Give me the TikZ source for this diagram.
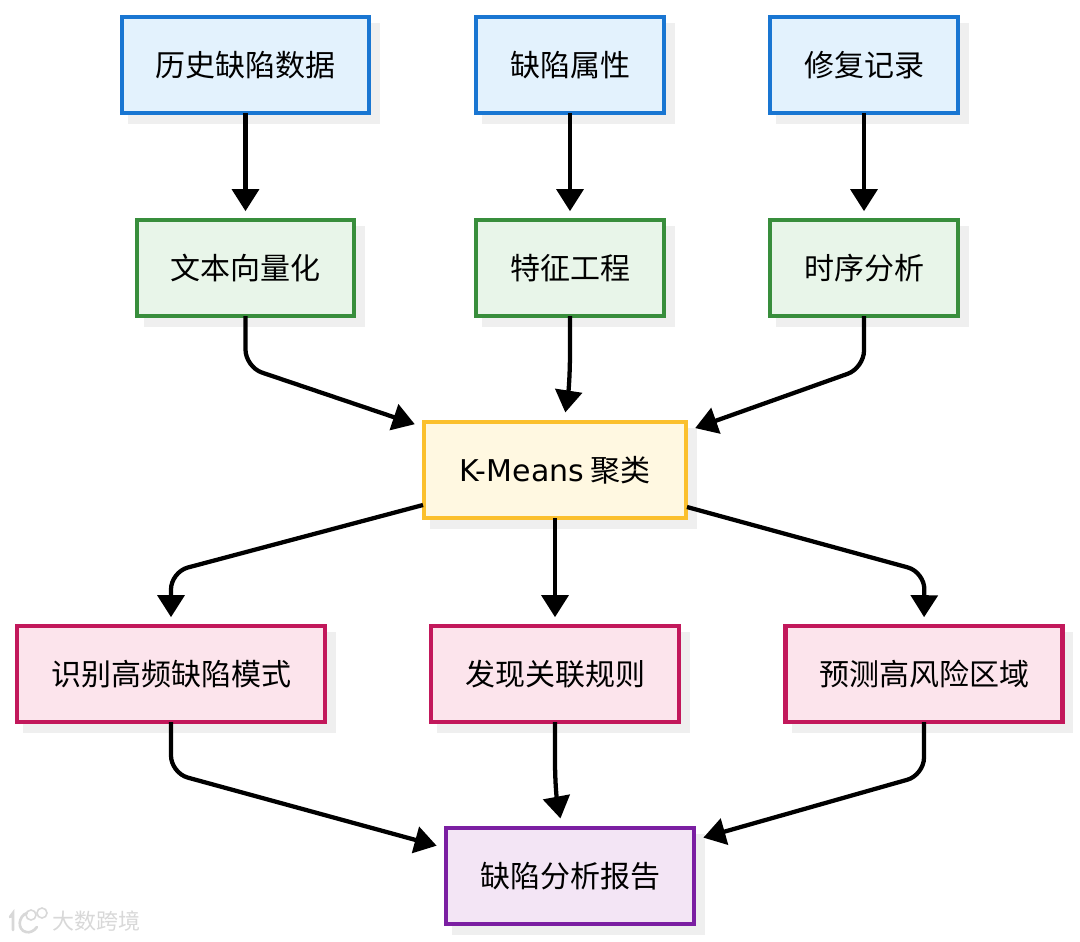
\documentclass[tikz,border=0pt]{standalone}
\usepackage{fontspec}
\setmainfont{Noto Sans CJK SC}
\newfontfamily\latinfont{DejaVu Sans}
\usetikzlibrary{arrows.meta,shadows}

\definecolor{inputline}{HTML}{1976D2}
\definecolor{inputfill}{HTML}{E3F2FD}
\definecolor{procline}{HTML}{388E3C}
\definecolor{procfill}{HTML}{E8F5E9}
\definecolor{clusterline}{HTML}{FBC02D}
\definecolor{clusterfill}{HTML}{FFF8E1}
\definecolor{resultline}{HTML}{C2185B}
\definecolor{resultfill}{HTML}{FCE4EC}
\definecolor{reportline}{HTML}{7B1FA2}
\definecolor{reportfill}{HTML}{F3E5F5}
\definecolor{shadowgray}{HTML}{EFEFEF}
\definecolor{markgray}{HTML}{D8D8D8}

\begin{document}
\begin{tikzpicture}[x=0.75pt,y=-0.75pt]
\tikzstyle{every node}=
[
    %Sets text size of all boxes
    font=\fontsize{22.5pt}{27pt}\selectfont,
    text=black
    ]
\tikzstyle{box}=
[
    %Common look of boxes, height is the same everywhere
    rectangle,
    line width=3.1pt,
    outer sep=0pt,
    minimum height=72.2pt,
    drop shadow={shadow xshift=6.4pt,shadow yshift=-6.4pt,draw=shadowgray,fill=shadowgray,opacity=1}
    ]
\tikzstyle{inputbox}=[box,draw=inputline,fill=inputfill]
\tikzstyle{procbox}=[box,draw=procline,fill=procfill]
\tikzstyle{clusterbox}=[box,draw=clusterline,fill=clusterfill]
\tikzstyle{resultbox}=[box,draw=resultline,fill=resultfill]
\tikzstyle{reportbox}=[box,draw=reportline,fill=reportfill]
\tikzstyle{flow}=
[
    %Connectors between boxes
    line width=3.2pt,
    black,
    rounded corners=13pt,
    shorten >=6.5pt,
    -{Triangle[length=16.5pt,width=20pt]}
    ]

\useasboundingbox (0,0) rectangle (1080,941);

%Input row
\node[inputbox,minimum width=185.7pt] (history) at (245.5,65) {历史缺陷数据};
\node[inputbox,minimum width=141.2pt] (attrs) at (570,65) {缺陷属性};
\node[inputbox,minimum width=141.2pt] (repairs) at (864,65) {修复记录};

%Processing row
\node[procbox,minimum width=162.7pt] (vectors) at (245.5,268) {文本向量化};
\node[procbox,minimum width=141.2pt] (features) at (570,268) {特征工程};
\node[procbox,minimum width=141.2pt] (timing) at (864,268) {时序分析};

\node[clusterbox,minimum width=196.7pt] (kmeans) at (555,470) {{\latinfont\fontsize{22.5pt}{27pt}\selectfont K-Means} 聚类};

%Result row
\node[resultbox,minimum width=231.2pt] (patterns) at (171,674) {识别高频缺陷模式};
\node[resultbox,minimum width=186.2pt] (rules) at (555,674) {发现关联规则};
\node[resultbox,minimum width=207.7pt] (risks) at (924,674) {预测高风险区域};

\node[reportbox,minimum width=186.2pt] (report) at (570,876) {缺陷分析报告};

%Where the slanted connectors meet the boxes
\coordinate (kmeansleft) at (423,427);
\coordinate (kmeanstop) at (564,421);
\coordinate (kmeansright) at (687,431);
\coordinate (kmeansoutleft) at (423,505);
\coordinate (kmeansoutright) at (687,507);
\coordinate (reportleft) at (445,848);
\coordinate (reporttop) at (562,827);
\coordinate (reportright) at (695,840);

\draw[flow] (history) -- (vectors);
\draw[flow] (attrs) -- (features);
\draw[flow] (repairs) -- (timing);

\draw[flow] (vectors.south) -- (245.5,367) -- (kmeansleft);
\draw[flow,sharp corners] (features.south) -- (570,350) .. controls (570,380) and (568,395) .. (kmeanstop);
\draw[flow] (timing.south) -- (864,368) -- (kmeansright);

\draw[flow] (kmeansoutleft) -- (171,572) -- (patterns.north);
\draw[flow] (kmeans) -- (rules);
\draw[flow] (kmeansoutright) -- (924.5,572) -- (risks.north);

\draw[flow] (patterns.south) -- (171,773) -- (reportleft);
\draw[flow,sharp corners] (rules.south) -- (555,760) .. controls (555,785) and (557,800) .. (reporttop);
\draw[flow] (risks.south) -- (924,775) -- (reportright);

%Watermark in the corner
\draw[markgray,line width=2pt,line cap=round] (10,917) -- (13,913) -- (13,930);
\draw[markgray,line width=2pt,line cap=round] (27,913) .. controls (18,916) and (17,930) .. (26,932) .. controls (30,933) and (34,931) .. (37,927);
\draw[markgray,line width=1.2pt] (31,915) circle (5);
\draw[markgray,line width=1.2pt] (42,913) circle (5);
\node[text=markgray,font=\fontsize{16.5pt}{20pt}\selectfont,anchor=west,inner sep=0pt] (mark) at (52,921) {大数跨境};
\end{tikzpicture}
\end{document}
